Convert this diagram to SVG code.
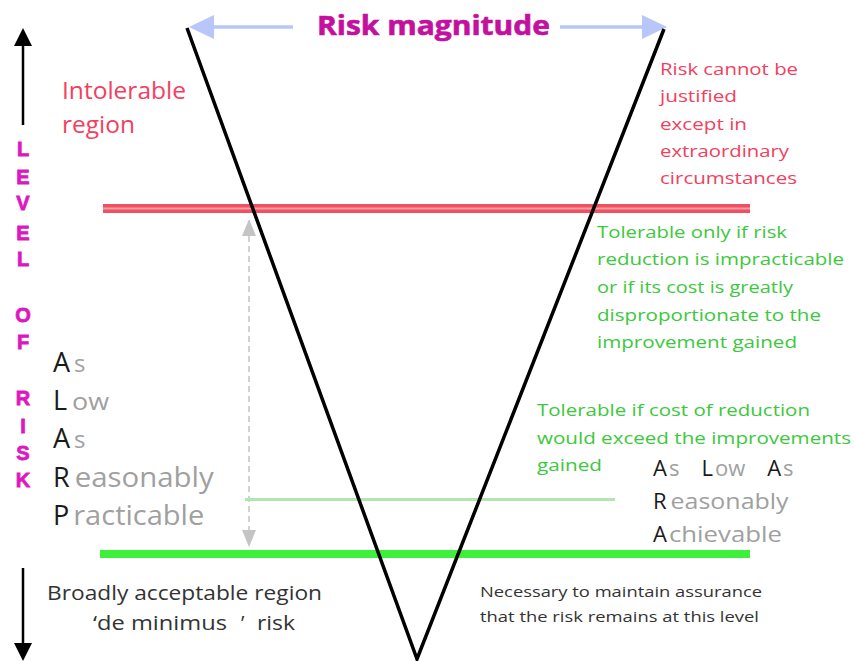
<svg xmlns="http://www.w3.org/2000/svg" width="854" height="661" viewBox="0 0 854 661">
<style>
text{font-family:"Open Sans","Liberation Sans",sans-serif}
.mag{fill:#c4109e;font-weight:bold}
.lvl{fill:#dd18c0;stroke:#dd18c0;stroke-width:0.8;font-family:"Liberation Sans",sans-serif;font-weight:bold;font-size:20px;text-anchor:middle}
.red{fill:#f2405e}
.grn{fill:#3cc83c}
.blk{fill:#1a1a1a}
.gry{fill:#a0a0a0}
.dk{fill:#333}
</style>
<rect width="854" height="661" fill="#fff"/>

<g id="connectors">
<line x1="293" y1="27" x2="210" y2="27" stroke="#b8c6f8" stroke-width="3.5"/>
<path d="M214,15L189,27L214,39z" fill="#b8c6f8"/>
<line x1="560" y1="27" x2="645" y2="27" stroke="#b8c6f8" stroke-width="3.5"/>
<path d="M642,15L667,27L642,39z" fill="#b8c6f8"/>
<line x1="23" y1="125" x2="23" y2="44" stroke="#000" stroke-width="2.5"/>
<path d="M14,46L23,28L32,46z" fill="#000"/>
<line x1="23" y1="568" x2="23" y2="645" stroke="#000" stroke-width="2.5"/>
<path d="M14,643L23,661L32,643z" fill="#000"/>
<line x1="249" y1="236" x2="249" y2="530" stroke="#c4c4c4" stroke-width="1.5" stroke-dasharray="6,4"/>
<path d="M242,236L249,219L256,236z" fill="#c4c4c4"/>
<path d="M242,530L249,547L256,530z" fill="#c4c4c4"/>
</g>

<g id="lines">
<rect x="103" y="204" width="647" height="9" fill="#f05060"/>
<rect x="103" y="207.5" width="647" height="2" fill="#f8a0a8"/>
<line x1="245" y1="499.5" x2="615" y2="499.5" stroke="#b0e6b0" stroke-width="3"/>
<rect x="100" y="550" width="650" height="8" fill="#3cf03c"/>
</g>

<g id="vshape">
<polyline points="187,28 417,659 664,29" fill="none" stroke="#000" stroke-width="3.5"/>
</g>

<g id="title">
<text x="317" y="35" class="mag" font-size="26" font-family="Liberation Sans" stroke="#c4109e" stroke-width="0.6" textLength="233" lengthAdjust="spacingAndGlyphs">Risk magnitude</text>
</g>

<g id="level-of-risk">
<text class="lvl" x="23" y="156">L</text>
<text class="lvl" x="23" y="184">E</text>
<text class="lvl" x="23" y="210">V</text>
<text class="lvl" x="23" y="240">E</text>
<text class="lvl" x="23" y="266">L</text>
<text class="lvl" x="23" y="322">O</text>
<text class="lvl" x="23" y="349">F</text>
<text class="lvl" x="23" y="405">R</text>
<text class="lvl" x="23" y="433">I</text>
<text class="lvl" x="23" y="460">S</text>
<text class="lvl" x="23" y="487">K</text>
</g>

<g id="intolerable">
<text class="red" x="62" y="99" font-size="23" textLength="124" lengthAdjust="spacingAndGlyphs">Intolerable</text>
<text class="red" x="62" y="133" font-size="23" textLength="73" lengthAdjust="spacingAndGlyphs">region</text>
</g>

<g id="intolerable-note" font-size="17">
<text class="red" x="660" y="75" textLength="138" lengthAdjust="spacingAndGlyphs">Risk cannot be</text>
<text class="red" x="660" y="102" textLength="77" lengthAdjust="spacingAndGlyphs">justified</text>
<text class="red" x="660" y="130" textLength="87" lengthAdjust="spacingAndGlyphs">except in</text>
<text class="red" x="660" y="157" textLength="129" lengthAdjust="spacingAndGlyphs">extraordinary</text>
<text class="red" x="660" y="184" textLength="137" lengthAdjust="spacingAndGlyphs">circumstances</text>
</g>

<g id="tolerable-note" font-size="17">
<text class="grn" x="597" y="238" textLength="190" lengthAdjust="spacingAndGlyphs">Tolerable only if risk</text>
<text class="grn" x="597" y="265" textLength="247" lengthAdjust="spacingAndGlyphs">reduction is impracticable</text>
<text class="grn" x="597" y="293" textLength="196" lengthAdjust="spacingAndGlyphs">or if its cost is greatly</text>
<text class="grn" x="597" y="321" textLength="224" lengthAdjust="spacingAndGlyphs">disproportionate to the</text>
<text class="grn" x="597" y="348" textLength="200" lengthAdjust="spacingAndGlyphs">improvement gained</text>
</g>

<g id="alarp-note" font-size="17">
<text class="grn" x="537" y="416" textLength="273" lengthAdjust="spacingAndGlyphs">Tolerable if cost of reduction</text>
<text class="grn" x="537" y="444" textLength="314" lengthAdjust="spacingAndGlyphs">would exceed the improvements</text>
<text class="grn" x="537" y="471" textLength="65" lengthAdjust="spacingAndGlyphs">gained</text>
</g>

<g id="alarp-left" font-size="27">
<text x="53" y="372"><tspan class="blk">A</tspan><tspan class="gry" dx="4" font-size="24">s</tspan></text>
<text x="53" y="410"><tspan class="blk">L</tspan><tspan class="gry" dx="5" font-size="24" textLength="37" lengthAdjust="spacingAndGlyphs">ow</tspan></text>
<text x="53" y="448"><tspan class="blk">A</tspan><tspan class="gry" dx="4" font-size="24">s</tspan></text>
<text x="53" y="487"><tspan class="blk">R</tspan><tspan class="gry" dx="5" textLength="139" lengthAdjust="spacingAndGlyphs">easonably</tspan></text>
<text x="53" y="525"><tspan class="blk">P</tspan><tspan class="gry" dx="4" textLength="131" lengthAdjust="spacingAndGlyphs">racticable</tspan></text>
</g>

<g id="alarp-right" font-size="22">
<text x="653" y="476"><tspan class="blk">A</tspan><tspan class="gry" dx="2">s</tspan><tspan class="blk" dx="22">L</tspan><tspan class="gry" dx="2">ow</tspan><tspan class="blk" dx="22">A</tspan><tspan class="gry" dx="2">s</tspan></text>
<text x="653" y="509"><tspan class="blk">R</tspan><tspan class="gry" dx="4" textLength="118" lengthAdjust="spacingAndGlyphs">easonably</tspan></text>
<text x="653" y="542"><tspan class="blk">A</tspan><tspan class="gry" dx="2" textLength="113" lengthAdjust="spacingAndGlyphs">chievable</tspan></text>
</g>

<g id="broadly">
<text class="dk" x="47" y="600" font-size="20" textLength="275" lengthAdjust="spacingAndGlyphs">Broadly acceptable region</text>
<text class="dk" x="93" y="630" font-size="20" xml:space="preserve"><tspan textLength="134" lengthAdjust="spacingAndGlyphs">‘de minimus</tspan><tspan x="241">’</tspan><tspan x="257" textLength="38" lengthAdjust="spacingAndGlyphs">risk</tspan></text>
</g>

<g id="necessary" font-size="15">
<text class="dk" x="480" y="597" textLength="282" lengthAdjust="spacingAndGlyphs">Necessary to maintain assurance</text>
<text class="dk" x="480" y="622" textLength="279" lengthAdjust="spacingAndGlyphs">that the risk remains at this level</text>
</g>
</svg>
